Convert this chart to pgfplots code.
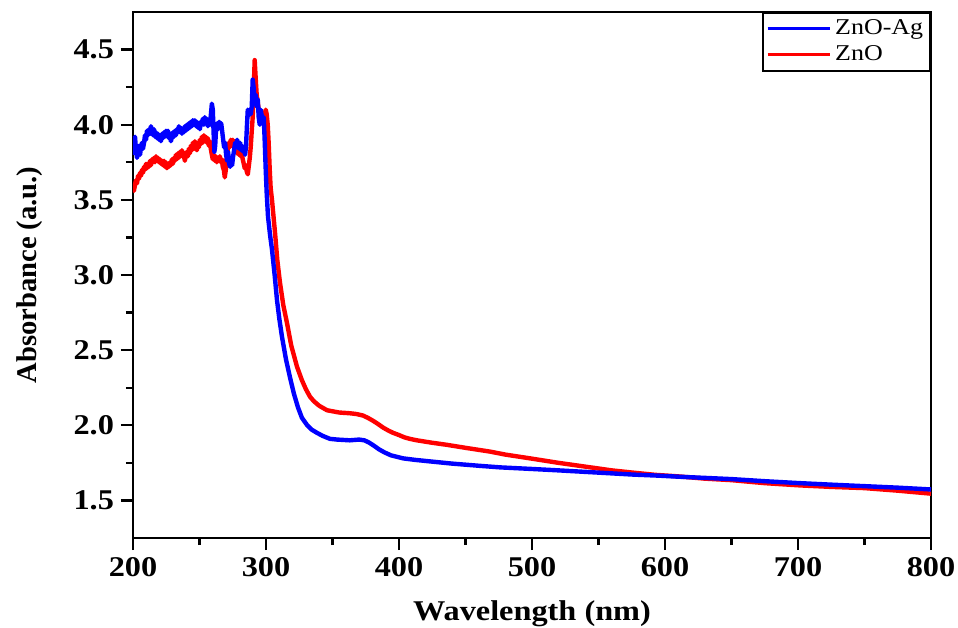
\documentclass[border=0pt]{standalone}
\usepackage{fontspec}
\setmainfont{Liberation Serif}
\newfontfamily\stretchfont[FakeStretch=1.13]{Liberation Serif}
\newfontfamily\legfont[FakeStretch=1.15]{Liberation Serif}
\usepackage{pgfplots}
\pgfplotsset{compat=1.18}

\begin{document}
\begin{tikzpicture}
\begin{axis}[
  name=ax,
  scale only axis,
  width=399pt, height=263pt,
  xmin=200, xmax=800, ymin=1.25, ymax=4.75,
  xtick={200,300,...,800},
  ytick={1.5,2.0,...,4.5},
  minor x tick num=1, minor y tick num=1,
  xtick pos=bottom, ytick pos=left,
  tick align=outside,
  major tick length=6pt, minor tick length=3.5pt,
  every tick/.style={black, line width=1.1pt},
  axis line style={line width=1.2pt},
  /pgf/number format/assume math mode=true,
  ticklabel style={font=\stretchfont\bfseries\fontsize{14.3}{16}\selectfont},
  yticklabel style={/pgf/number format/.cd, fixed, fixed zerofill, precision=1},
  xticklabel style={/pgf/number format/.cd, fixed, 1000 sep={}},
  xlabel={Wavelength (nm)},
  ylabel={Absorbance (a.u.)},
  label style={font=\bfseries\fontsize{14.3}{16}\selectfont},
  xlabel style={font=\stretchfont\bfseries\fontsize{14.3}{16}\selectfont, at={(axis description cs:0.5,-0.156)}, anchor=base},
  ylabel style={at={(axis description cs:-0.1203,0.5)}, anchor=base},
  legend style={at={(rel axis cs:1,1)}, anchor=north east, draw=black, line width=0.8pt,
    font=\legfont\fontsize{11.3}{13.5}\selectfont, inner xsep=1.5pt, inner ysep=1.5pt,
    cells={anchor=west}, row sep=0pt},
  legend image code/.code={\draw[#1, line width=1.6pt] (0pt,0pt) -- (31pt,0pt);},
  reverse legend,
]
\addplot[red, line width=2.2pt, line join=round] coordinates {
(200,3.59) (200.7,3.56) (201.5,3.60) (202.2,3.63) (203,3.61) (203.8,3.66) (204.5,3.64) (205.3,3.68)
(206,3.66) (206.8,3.70) (207.5,3.68) (208.3,3.72) (209,3.70) (209.8,3.74) (210.5,3.71) (211.3,3.74)
(212,3.72) (212.8,3.76) (213.5,3.73) (214.3,3.77) (215,3.75) (215.8,3.78) (216.5,3.75) (217.3,3.79)
(218,3.76) (218.8,3.78) (219.5,3.75) (220.3,3.77) (221,3.74) (221.8,3.76) (222.5,3.73) (223.3,3.76)
(224,3.72) (224.8,3.75) (225.5,3.71) (226.3,3.74) (227,3.72) (227.8,3.75) (228.5,3.73) (229.3,3.77)
(230,3.74) (230.8,3.78) (231.5,3.76) (232.3,3.80) (233,3.77) (233.8,3.81) (234.5,3.78) (235.3,3.82)
(236,3.79) (236.8,3.83) (237.5,3.80) (238.3,3.79) (239,3.76) (239.8,3.80) (240.5,3.82) (241.3,3.79)
(242,3.84) (242.8,3.81) (243.5,3.86) (244.3,3.83) (245,3.88) (245.8,3.84) (246.5,3.89) (247.3,3.85)
(248,3.83) (248.8,3.87) (249.5,3.85) (250.3,3.90) (251,3.87) (251.8,3.92) (252.5,3.88) (253.3,3.93)
(254,3.89) (254.8,3.92) (255.5,3.88) (256.3,3.91) (257,3.86) (257.8,3.89) (258.5,3.84) (259.3,3.80)
(260,3.77) (260.8,3.80) (261.5,3.76) (262.3,3.79) (263,3.75) (263.8,3.78) (264.5,3.76) (265.3,3.79)
(266,3.75) (266.8,3.77) (267.5,3.72) (268.3,3.70) (269,3.65) (269.8,3.70) (270.5,3.78) (271.3,3.84)
(272,3.88) (272.8,3.85) (273.5,3.90) (274.3,3.87) (275,3.90) (275.8,3.86) (276.5,3.83) (277.3,3.86)
(278,3.81) (278.8,3.84) (279.5,3.80) (280.3,3.83) (281,3.79) (281.8,3.81) (282.5,3.77) (283.3,3.74)
(284,3.71) (284.8,3.73) (285.5,3.69) (286.3,3.67) (287,3.72) (287.8,3.78) (288.5,3.85) (289.3,3.96)
(290,4.05) (290.8,4.25) (291.5,4.43) (292.3,4.30) (293,4.20) (293.8,4.15) (294.5,4.10) (295.3,4.05)
(296,4.09) (296.8,4.04) (297.5,4.08) (298.3,4.00) (299,4.06) (299.8,4.10) (300.5,4.07) (301.3,4.00)
(302,3.88) (302.8,3.70) (303.5,3.58) (304.5,3.50) (306.8,3.28) (308.5,3.10)
(310.5,2.95) (313,2.80) (315.8,2.68) (319,2.53) (323.3,2.39) (327,2.30) (330,2.24) (333.1,2.19)
(336,2.16) (340,2.13) (345.9,2.10) (355,2.085) (363.2,2.08) (368,2.075) (372.9,2.065) (376.5,2.05)
(380.5,2.03) (384,2.01) (388,1.985) (392,1.965) (395.5,1.95) (400,1.935) (404,1.92) (408,1.91)
(413.5,1.90) (424,1.885) (436,1.87) (450,1.85) (468.4,1.825) (480,1.805) (498.5,1.78) (520,1.75)
(540,1.725) (560,1.70) (576,1.685) (593,1.67) (610,1.66) (630,1.645) (650,1.635) (675,1.615)
(701.5,1.60) (725,1.59) (750,1.582) (775,1.565) (800,1.545)
};
\addlegendentry{ZnO}
\addplot[blue, line width=2.2pt, line join=round] coordinates {
(200,3.80) (200.7,3.88) (201.5,3.92) (202.2,3.84) (203,3.78) (203.8,3.81) (204.5,3.86) (205.3,3.80)
(206,3.85) (206.8,3.88) (207.5,3.84) (208.3,3.88) (209,3.93) (209.8,3.90) (210.5,3.96) (211.3,3.93)
(212,3.97) (212.8,3.94) (213.5,3.99) (214.3,3.96) (215,3.93) (215.8,3.97) (216.5,3.92) (217.3,3.95)
(218,3.91) (218.8,3.94) (219.5,3.90) (220.3,3.93) (221,3.89) (221.8,3.94) (222.5,3.91) (223.3,3.95)
(224,3.92) (224.8,3.96) (225.5,3.93) (226.3,3.96) (227,3.91) (227.8,3.94) (228.5,3.89) (229.3,3.92)
(230,3.95) (230.8,3.92) (231.5,3.96) (232.3,3.93) (233,3.97) (233.8,3.95) (234.5,3.99) (235.3,3.95)
(236,3.98) (236.8,3.94) (237.5,3.97) (238.3,3.95) (239,3.99) (239.8,3.96) (240.5,4.00) (241.3,3.97)
(242,4.01) (242.8,3.98) (243.5,4.02) (244.3,3.99) (245,4.03) (245.8,4.00) (246.5,4.03) (247.3,3.99)
(248,4.02) (248.8,3.98) (249.5,4.01) (250.3,3.97) (251,4.02) (251.8,4.00) (252.5,4.04) (253.3,4.00)
(254,4.05) (254.8,4.01) (255.5,4.04) (256.3,3.99) (257,4.02) (257.8,4.00) (258.5,4.06) (259.3,4.14)
(260,4.10) (260.6,3.95) (261.2,3.82) (261.8,3.86) (262.5,3.98) (263.3,4.01) (264,3.97) (264.8,4.02)
(265.5,3.98) (266.3,4.01) (267,3.96) (267.8,3.90) (268.5,3.85) (269.3,3.88) (270,3.80) (270.8,3.76)
(271.5,3.82) (272.3,3.74) (273,3.72) (273.8,3.78) (274.5,3.73) (275.3,3.79) (276,3.83) (276.8,3.88)
(277.5,3.85) (278.3,3.90) (279,3.86) (279.8,3.84) (280.5,3.88) (281.3,3.83) (282,3.86) (282.8,3.82)
(283.5,3.85) (284.3,3.80) (285,3.86) (285.6,3.98) (286.3,4.10) (287,4.06) (287.8,4.10) (288.5,4.07)
(289.3,4.12) (290,4.30) (290.8,4.24) (291.5,4.15) (292.3,4.20) (293,4.12) (293.8,4.17) (294.5,4.05)
(295.3,4.00) (296,4.10) (296.8,4.06) (297.5,4.02) (298.3,4.05) (299,3.90) (299.8,3.70) (300.5,3.55)
(301.5,3.39) (303,3.27) (304.5,3.17) (306.5,3.00) (308.3,2.83) (310,2.71) (312,2.59) (315,2.44)
(318,2.32) (321,2.21) (324,2.12) (327,2.05) (331,2.00) (334.5,1.97) (338.3,1.95) (342.5,1.93)
(348,1.91) (353.4,1.905) (363,1.90) (370,1.905) (374,1.90) (377.5,1.885) (381,1.865) (385,1.84)
(389,1.82) (394,1.80) (398.5,1.79) (403,1.78) (412,1.77) (423,1.76) (440,1.745) (461,1.73)
(476,1.72) (498.5,1.71) (520,1.70) (540,1.69) (560,1.68) (576,1.672) (595,1.665) (610,1.658)
(630,1.65) (650,1.642) (675,1.628) (701.5,1.615) (725,1.605) (750,1.595) (775,1.585) (800,1.573)
};
\addlegendentry{ZnO-Ag}
\end{axis}
\pgfresetboundingbox
\useasboundingbox ([xshift=-66.5pt,yshift=-44.5pt]ax.south west) rectangle ([xshift=13.5pt,yshift=6pt]ax.north east);
\end{tikzpicture}
\end{document}
